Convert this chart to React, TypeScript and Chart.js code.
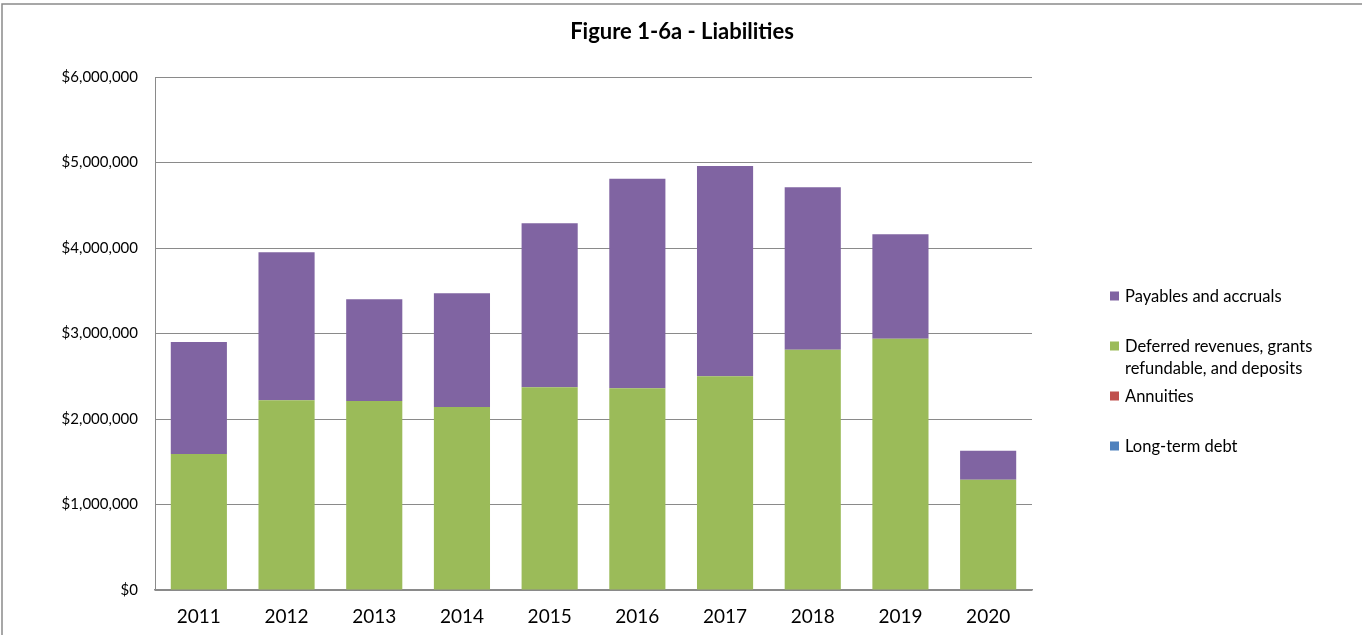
import React, { useEffect, useRef } from "react";
import { Chart, registerables } from "chart.js";

Chart.register(...registerables);

const years = ["2011", "2012", "2013", "2014", "2015", "2016", "2017", "2018", "2019", "2020"];
const longTermDebt = [0, 0, 0, 0, 0, 0, 0, 0, 0, 0];
const annuities = [0, 0, 0, 0, 0, 0, 0, 0, 0, 0];
const deferredRevenues = [1590000, 2220000, 2210000, 2140000, 2370000, 2360000, 2500000, 2810000, 2940000, 1290000];
const payables = [1310000, 1730000, 1190000, 1330000, 1920000, 2450000, 2460000, 1900000, 1220000, 340000];
const yTicks = [0, 1000000, 2000000, 3000000, 4000000, 5000000, 6000000];
const titleText = "Figure 1-6a - Liabilities";

const FONT = "Lato, 'Open Sans', sans-serif";

const framePlugin = {
  id: "frame",
  beforeDraw(chart: any) {
    const ctx = chart.ctx;
    ctx.save();
    ctx.strokeStyle = "#8a8a8a";
    ctx.lineWidth = 1.5;
    ctx.beginPath();
    ctx.moveTo(2, chart.height);
    ctx.lineTo(2, 4);
    ctx.lineTo(chart.width, 4);
    ctx.stroke();
    ctx.restore();
  },
  afterDraw(chart: any) {
    const ctx = chart.ctx;
    ctx.save();
    ctx.font = "bold 22px " + FONT;
    ctx.fillStyle = "#000";
    ctx.textAlign = "center";
    ctx.textBaseline = "middle";
    ctx.fillText(titleText, chart.width / 2 + 1, 32);
    ctx.restore();
  },
};

const legendPlugin = {
  id: "customLegend",
  afterDraw(chart: any) {
    const ctx = chart.ctx;
    const area = chart.chartArea;
    const items = chart.data.datasets.slice().reverse();
    const x0 = area.right + 78;
    const maxW = 200;
    ctx.save();
    ctx.font = "16.5px " + FONT;
    ctx.textBaseline = "middle";
    ctx.textAlign = "left";
    items.forEach((ds: any, i: number) => {
      const y = area.top + 219 + i * 50;
      ctx.fillStyle = ds.backgroundColor;
      ctx.fillRect(x0, y - 4.5, 9, 9);
      ctx.fillStyle = "#000";
      const words = String(ds.label).split(" ");
      const lines: string[] = [];
      let cur = "";
      words.forEach((w) => {
        const t = cur ? cur + " " + w : w;
        if (ctx.measureText(t).width > maxW && cur) {
          lines.push(cur);
          cur = w;
        } else cur = t;
      });
      if (cur) lines.push(cur);
      lines.forEach((ln, j) => ctx.fillText(ln, x0 + 15, y + 1 + j * 22));
    });
    ctx.restore();
  },
};

export default function App() {
  const ref = useRef<HTMLCanvasElement | null>(null);
  useEffect(() => {
    if (!ref.current) return;
    const chart = new Chart(ref.current, {
      type: "bar",
      data: {
        labels: years,
        datasets: [
          { label: "Long-term debt", data: longTermDebt, backgroundColor: "#4F81BD" },
          { label: "Annuities", data: annuities, backgroundColor: "#C0504D" },
          { label: "Deferred revenues, grants refundable, and deposits", data: deferredRevenues, backgroundColor: "#9BBB59" },
          { label: "Payables and accruals", data: payables, backgroundColor: "#8064A2" },
        ],
      },
      options: {
        animation: false,
        responsive: false,
        maintainAspectRatio: false,
        layout: { padding: { left: 0, right: 330, top: 77, bottom: 0 } },
        datasets: { bar: { categoryPercentage: 0.64, barPercentage: 1 } },
        plugins: {
          legend: { display: false },
          tooltip: { enabled: false },
          title: { display: false },
        },
        scales: {
          x: {
            stacked: true,
            grid: { display: false, drawTicks: false },
            border: { color: "#8a8a8a", width: 1.5 },
            ticks: { color: "#000", font: { family: FONT, size: 19 }, padding: 15 },
            afterFit(scale: any) {
              scale.height = 45;
            },
          },
          y: {
            stacked: true,
            min: 0,
            max: 6000000,
            afterBuildTicks(scale: any) {
              scale.ticks = yTicks.map((v) => ({ value: v }));
            },
            grid: { color: "#8a8a8a", drawTicks: false },
            border: { color: "#8a8a8a", width: 1 },
            ticks: {
              color: "#000",
              font: { family: FONT, size: 15 },
              padding: 17,
              callback: (v: any) => "$" + Number(v).toLocaleString("en-US"),
            },
            afterFit(scale: any) {
              scale.width = 155;
            },
          },
        },
      },
      plugins: [framePlugin, legendPlugin],
    });
    return () => chart.destroy();
  }, []);
  return (
    <div style={{ position: "fixed", left: 0, top: 0, width: 1362, height: 635, background: "#fff" }}>
      <canvas ref={ref} width={1362} height={635} style={{ display: "block" }} />
    </div>
  );
}
